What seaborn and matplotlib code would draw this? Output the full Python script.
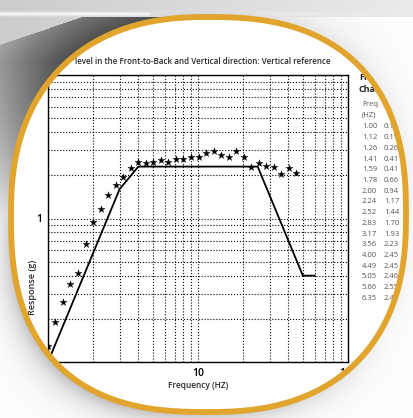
import numpy as np
import matplotlib
matplotlib.use("Agg")
import matplotlib.pyplot as plt
import matplotlib.ticker as mticker
import seaborn as sns

# measured response (stars), 1/6 octave steps
freq = [1.00, 1.12, 1.26, 1.41, 1.59, 1.78, 2.00, 2.24, 2.52, 2.83, 3.17, 3.56,
        4.00, 4.49, 5.05, 5.66, 6.35, 7.13, 8.00, 8.98, 10.1, 11.3, 12.7, 14.3,
        16.0, 18.0, 20.2, 22.6, 25.4, 28.5, 32.0, 35.9, 40.3, 45.3]
response = [0.13, 0.19, 0.26, 0.35, 0.42, 0.66, 0.95, 1.16, 1.46, 1.71, 1.94, 2.24,
            2.49, 2.45, 2.46, 2.55, 2.49, 2.58, 2.58, 2.69, 2.70, 2.85, 2.97, 2.77,
            2.67, 2.95, 2.69, 2.30, 2.45, 2.32, 2.27, 2.04, 2.24, 2.07]

# vertical reference profile
ref_freq = [1, 3, 4, 25, 50, 60]
ref_level = [0.1, 1.6, 2.3, 2.3, 0.4, 0.4]

# side table
table_freq = ["1.00", "1.12", "1.26", "1.41", "1.59", "1.78", "2.00", "2.24", "2.52",
              "2.83", "3.17", "3.56", "4.00", "4.49", "5.05", "5.66", "6.35"]
table_val = ["0.13", "0.19", "0.26", "0.41", "0.41", "0.66", "0.94", "1.17", "1.44",
             "1.70", "1.93", "2.23", "2.45", "2.45", "2.46", "2.55", "2.48"]

W, H = 414, 418
sns.set_style("white")
plt.rcParams["font.family"] = ["Open Sans", "DejaVu Sans"]

fig = plt.figure(figsize=(W / 100, H / 100), dpi=100)
fig.patch.set_facecolor("white")

# chart axes
ax = fig.add_axes([48 / W, 1 - 362 / H, 300 / W, 287 / H], zorder=0)
sns.lineplot(x=ref_freq, y=ref_level, color="black", lw=1.3, ax=ax,
             estimator=None, sort=False)
sns.scatterplot(x=freq, y=response, marker="*", s=30, color="black",
                edgecolor="black", linewidth=0.2, ax=ax, zorder=3)
ax.set_xscale("log")
ax.set_yscale("log")
ax.set_xlim(1, 100)
ax.set_ylim(0.1, 10)
ax.grid(True, which="both", ls=":", color="black", lw=0.8)
fmt = mticker.FuncFormatter(lambda v, _: f"{v:g}")
ax.xaxis.set_major_formatter(fmt)
ax.yaxis.set_major_formatter(fmt)
ax.xaxis.set_minor_formatter(mticker.NullFormatter())
ax.yaxis.set_minor_formatter(mticker.NullFormatter())
ax.tick_params(which="both", length=0, labelsize=7.5, colors="black")
ax.tick_params(axis="x", pad=4.5)
ax.tick_params(axis="y", pad=4)
for lab in ax.get_xticklabels() + ax.get_yticklabels():
    lab.set_fontweight("semibold")
for sp in ax.spines.values():
    sp.set_color("black")
    sp.set_linewidth(1.0)
ax.set_xlabel("")
ax.set_ylabel("")

def px(x, y):
    return x / W, 1 - y / H

fig.text(*px(75, 61), "level in the Front-to-Back and Vertical direction: Vertical reference",
         fontsize=5.8, fontweight="semibold", ha="left", va="center")
fig.text(*px(198, 385), "Frequency (HZ)", fontsize=6, fontweight="semibold",
         ha="center", va="center")
fig.text(*px(33, 287), "Response (g)", fontsize=6.5, fontweight="semibold",
         rotation=90, ha="center", va="center")

# side table
fig.text(*px(359, 78), "Frequency", fontsize=6.5, fontweight="bold", ha="left", va="center")
fig.text(*px(359, 89), "Chart", fontsize=6.5, fontweight="bold", ha="left", va="center")
fig.text(*px(362, 104), "Freq", fontsize=5.5, color="#555555", ha="left", va="center")
fig.text(*px(362, 115), "(HZ)", fontsize=5.5, color="#555555", ha="left", va="center")
for i, (f, v) in enumerate(zip(table_freq, table_val)):
    yrow = 127 + 10.7 * i
    fig.text(*px(362, yrow), f, fontsize=5.5, color="#555555", ha="left", va="center")
    fig.text(*px(384, yrow), v, fontsize=5.5, color="#555555", ha="left", va="center")

# lens overlay: everything outside the lens is covered by a shaded backdrop
cx, cy = 208, 215
n_tl, n_tr, n_bl, n_br = 2.35, 2.5, 2.55, 2.4
yy, xx = np.mgrid[0:H, 0:W] + 0.5
left, upper = xx < cx, yy < cy
n_arr = np.where(left, np.where(upper, n_tl, n_bl), np.where(upper, n_tr, n_br))
a_arr = np.where(left, 197.0, 198.0)
b_arr = np.where(upper, 198.0, 197.0)
r = ((np.abs(xx - cx) / a_arr) ** n_arr + (np.abs(yy - cy) / b_arr) ** n_arr) ** (1 / n_arr)
dist = np.clip((r - 1) * 197, 0, None)
alpha = np.clip((r - 1) * 197 + 0.5, 0, 1)

val = np.ones((H, W))
theta = np.degrees(np.arctan2(yy - cy, xx - cx))
k = 0.05 + 0.25 * np.clip(np.cos(np.radians(theta - 125)), 0, None)
val -= k * np.exp(-dist / 13)
# soft grey above the lens on the right
val -= 0.13 * np.exp(-dist / 30) * upper * np.clip((430 - xx) / 230, 0, 1) * (xx > 150)
# paper sheet in the top-left corner with a bright edge
paper = (yy < 45 - 0.34 * xx) | (yy < 17)
paper_val = 0.80 + 0.12 * np.clip(xx / 414, 0, 1)
band = np.exp(-((yy - 14) / 2.0) ** 2) * np.clip(1.4 - xx / 300, 0, 1)
paper_val = paper_val + (0.97 - paper_val) * band
val = np.where(paper & (dist > 0), np.minimum(val, paper_val), val)
# dark wedge at top left
wedge = ~paper & (xx < 200) & (yy < 260)
dark = 0.30 + 0.006 * dist + 0.0035 * np.clip(yy - 60, 0, None)
val = np.where(wedge, np.minimum(val, np.clip(dark, 0, 1)), val)
val = np.clip(val, 0, 1)
rgba = np.dstack([val, val, val, alpha])

ov = fig.add_axes([0, 0, 1, 1], zorder=10)
ov.imshow(rgba, extent=[0, W, H, 0], aspect="auto", interpolation="bilinear")
t = np.linspace(0, 2 * np.pi, 1600)
ct, st = np.cos(t), np.sin(t)
nt = np.where(ct < 0, np.where(st < 0, n_tl, n_bl), np.where(st < 0, n_tr, n_br))
at = np.where(ct < 0, 197.0, 198.0)
bt = np.where(st < 0, 198.0, 197.0)
rx = cx + at * np.sign(ct) * np.abs(ct) ** (2 / nt)
ry = cy + bt * np.sign(st) * np.abs(st) ** (2 / nt)
ov.plot(rx, ry, color="#E1A42C", lw=4.2, solid_capstyle="round")
ov.set_xlim(0, W)
ov.set_ylim(H, 0)
ov.axis("off")

fig.savefig("out.png", dpi=100)
